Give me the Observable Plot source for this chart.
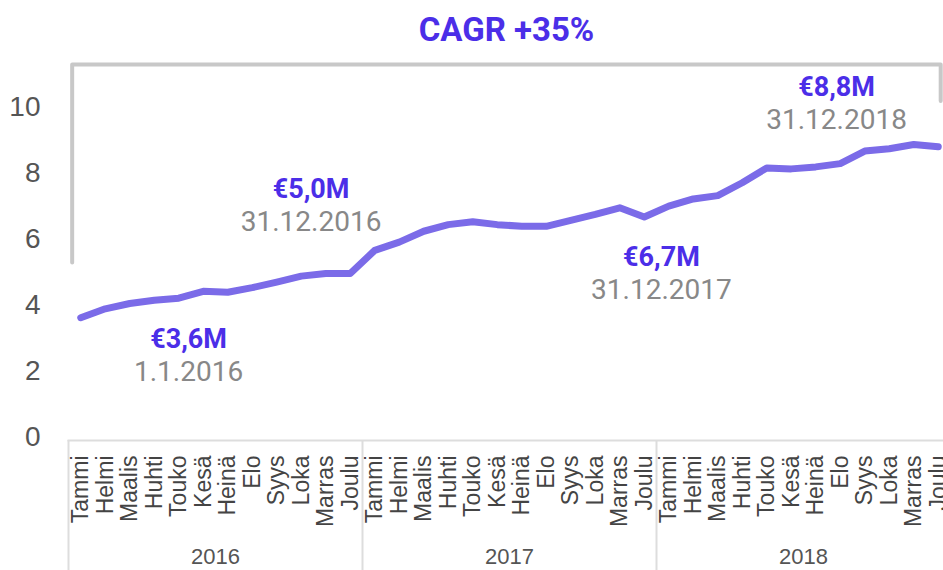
<!DOCTYPE html>
<html><head><meta charset="utf-8">
<script src="https://cdn.jsdelivr.net/npm/d3@7"></script>
<script src="https://cdn.jsdelivr.net/npm/@observablehq/plot@0.6"></script>
<style>
html,body{margin:0;padding:0;background:#fff;overflow:hidden;}
#chart svg{overflow:hidden;display:block;}
</style></head><body><div id="chart"></div>
<script>
const years = ["2016", "2017", "2018"];
const months = ["Tammi","Helmi","Maalis","Huhti","Touko","Kesä","Heinä","Elo","Syys","Loka","Marras","Joulu"];
const values2016 = [3.63, 3.90, 4.06, 4.16, 4.22, 4.43, 4.40, 4.54, 4.71, 4.89, 4.97, 4.97];
const values2017 = [5.67, 5.92, 6.25, 6.45, 6.54, 6.45, 6.40, 6.40, 6.58, 6.76, 6.96, 6.68];
const values2018 = [7.01, 7.23, 7.33, 7.72, 8.17, 8.14, 8.20, 8.30, 8.68, 8.75, 8.88, 8.81];
const yTicks = [0, 2, 4, 6, 8, 10];
const title = "CAGR +35%";
const annotValues = ["€3,6M", "€5,0M", "€6,7M", "€8,8M"];
const annotDates = ["1.1.2016", "31.12.2016", "31.12.2017", "31.12.2018"];
const annotMonth = [4.4, 9.4, 23.7, 30.85];
const annotLevel = [2.98, 7.53, 5.47, 10.62];
const bracketMonth = [-0.35, -0.35, 35.1, 35.1];
const bracketLevel = [5.3, 11.3, 11.3, 10.2];
const titleMonth = 17.375;
const titleLevel = 12.33;

const seriesByYear = [values2016, values2017, values2018];
const data = years.flatMap((yr, yi) => seriesByYear[yi].map((v, m) => ({i: yi * 12 + m, v, month: months[m], year: yr})));
const annots = annotValues.map((t, k) => ({i: annotMonth[k], v: annotLevel[k], t, d: annotDates[k]}));
const bracket = bracketMonth.map((i, k) => ({i, v: bracketLevel[k]}));
const monthTicks = data.map(d => d.i);
const yearBounds = years.map((_, k) => k * 12 - 0.5);
const yearCenters = years.map((_, k) => k * 12 + 5.5);

const purple = "#4B2EE8";
const chart = Plot.plot({
  width: 943,
  height: 570,
  marginLeft: 68,
  marginRight: 0,
  marginTop: 0,
  marginBottom: 130,
  style: {fontFamily: "'Liberation Sans', Arial, sans-serif", background: "#fff"},
  x: {type: "linear", domain: [-0.5, 35.5], range: [68, 950], label: null},
  y: {domain: [0, 10], range: [437, 107], label: null},
  marks: [
    Plot.frame({anchor: "bottom", stroke: "#ddd", strokeWidth: 2}),
    Plot.axisX({ticks: yearBounds, tickSize: 130, tickFormat: () => "", stroke: "#ddd", strokeWidth: 2, label: null}),
    Plot.axisX({ticks: monthTicks, tickSize: 0, tickPadding: 15, tickRotate: -90,
      tickFormat: i => months[i % 12], fontSize: 23, fill: "#444", label: null}),
    Plot.axisX({ticks: yearCenters, tickSize: 0, tickPadding: 108,
      tickFormat: (d, k) => years[k], fontSize: 22, fill: "#555", label: null}),
    Plot.axisY({ticks: yTicks, tickSize: 0, tickPadding: 28, fontSize: 28, fill: "#555", label: null}),
    Plot.line(bracket, {x: "i", y: "v", stroke: "#c8c8c8", strokeWidth: 4}),
    Plot.line(data, {x: "i", y: "v", stroke: "#7B6BE8", strokeWidth: 7, strokeLinecap: "round", strokeLinejoin: "round"}),
    Plot.text(annots, {x: "i", y: "v", text: "t", fontFamily: "Roboto", fontWeight: "bold", fontSize: 27, fill: purple}),
    Plot.text(annots, {x: "i", y: "v", text: "d", dy: 33, fontFamily: "Roboto", fontSize: 28, fill: "#888"}),
    Plot.text([title], {x: () => titleMonth, y: () => titleLevel, text: d => d, fontFamily: "Roboto", fontWeight: "bold", fontSize: 33, fill: purple})
  ]
});
document.getElementById("chart").appendChild(chart);
</script>
</body></html>
